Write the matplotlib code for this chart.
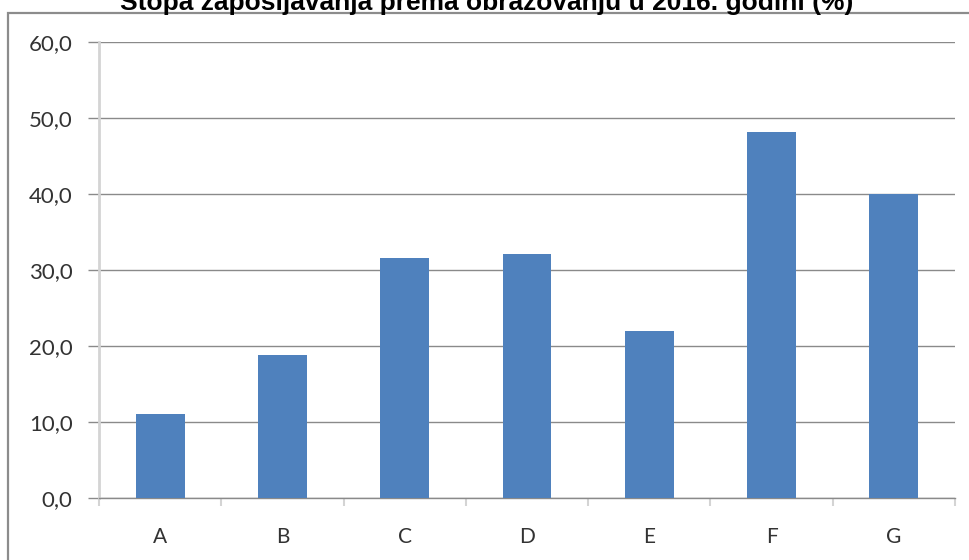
import numpy as np
import matplotlib.pyplot as plt
from matplotlib.patches import Rectangle

# data
categories = ['A', 'B', 'C', 'D', 'E', 'F', 'G']
values = [11.1, 18.8, 31.6, 32.1, 22.0, 48.2, 40.0]
title = 'Stopa zapošljavanja prema obrazovanju u 2016. godini (%)'

W, H = 970, 560
fig = plt.figure(figsize=(W / 100, H / 100), dpi=100)

# outer chart border (cut off at right/bottom like the original)
fig.patches.append(Rectangle((8 / W, -0.05), 1.1, 1 - 13 / H + 0.05,
                             transform=fig.transFigure, fill=False,
                             edgecolor='#8c8c8c', linewidth=1.6))

ax = fig.add_axes([99 / W, 62 / H, 856 / W, 456 / H])
x = np.arange(len(categories))
ax.bar(x, values, width=0.4, color='#4F81BD', zorder=3)

ax.set_xlim(-0.5, len(categories) - 0.5)
ax.set_ylim(0, 60)
ax.set_yticks(np.arange(0, 61, 10))
ax.set_yticklabels([f'{v:.1f}'.replace('.', ',') for v in np.arange(0, 61, 10)])
ax.set_xticks(x)
ax.set_xticklabels(categories)
ax.set_xticks(np.arange(-0.5, len(categories)), minor=True)

ax.grid(axis='y', color='#8a8a8a', linewidth=1.0, zorder=0)
for s in ['top', 'right']:
    ax.spines[s].set_visible(False)
ax.spines['left'].set_color('#d4d4d4')
ax.spines['left'].set_linewidth(2)
ax.spines['bottom'].set_color('#8a8a8a')
ax.spines['bottom'].set_linewidth(1.0)

ax.tick_params(axis='y', length=8, width=1, color='#8a8a8a', pad=11,
               labelsize=16, labelcolor='#333333')
ax.tick_params(axis='x', which='major', length=0, pad=21,
               labelsize=15, labelcolor='#333333')
ax.tick_params(axis='x', which='minor', length=6, width=1.5, color='#d4d4d4')
for lab in ax.get_xticklabels() + ax.get_yticklabels():
    lab.set_fontfamily(['Lato', 'DejaVu Sans'])

fig.text(0.502, 1 - 10 / H, title, ha='center', va='baseline',
         fontsize=19, fontweight='bold', family=['Liberation Sans', 'DejaVu Sans'])

fig.savefig('out.png', dpi=100)
